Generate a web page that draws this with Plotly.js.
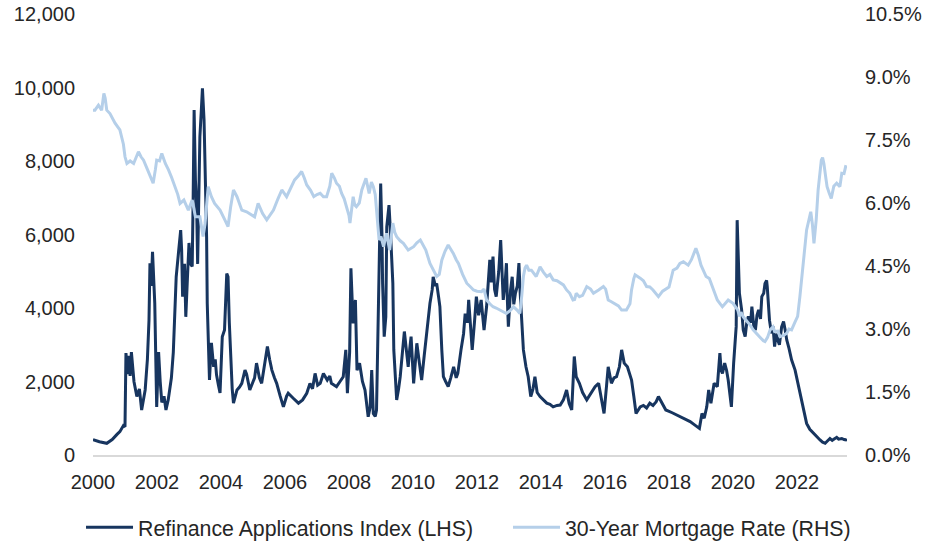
<!DOCTYPE html>
<html>
<head>
<meta charset="utf-8">
<script src="https://cdn.plot.ly/plotly-3.0.1.min.js"></script>
<style>
  html, body { margin: 0; padding: 0; background: #ffffff; }
  #chart { width: 927px; height: 541px; }
</style>
</head>
<body>
<div id="chart"></div>
<script>
// MBA refinance applications index (weekly, left axis) — time in decimal years
const refiYears = [
  2000.00,2000.06,2000.20,2000.43,2000.60,2000.75,2000.84,2000.95,2001.00,2001.03,
  2001.08,2001.12,2001.16,2001.20,2001.28,2001.37,2001.45,2001.52,2001.58,2001.63,
  2001.70,2001.75,2001.78,2001.82,2001.86,2001.93,2001.99,2002.05,2002.10,2002.15,
  2002.22,2002.28,2002.35,2002.40,2002.45,2002.51,2002.56,2002.60,2002.67,2002.74,
  2002.77,2002.80,2002.86,2002.90,2002.95,2003.00,2003.05,2003.10,2003.13,2003.16,
  2003.20,2003.24,2003.27,2003.31,2003.34,2003.38,2003.42,2003.47,2003.52,2003.55,
  2003.57,2003.60,2003.64,2003.70,2003.77,2003.82,2003.86,2003.92,2003.97,2004.04,
  2004.11,2004.18,2004.22,2004.26,2004.30,2004.35,2004.39,2004.45,2004.50,2004.58,
  2004.65,2004.75,2004.80,2004.90,2004.97,2005.05,2005.11,2005.20,2005.27,2005.36,
  2005.45,2005.52,2005.59,2005.67,2005.74,2005.85,2005.95,2006.05,2006.10,2006.25,
  2006.42,2006.55,2006.68,2006.78,2006.86,2006.94,2007.02,2007.10,2007.20,2007.32,
  2007.40,2007.45,2007.55,2007.61,2007.72,2007.82,2007.90,2007.95,2008.02,2008.06,
  2008.10,2008.13,2008.20,2008.25,2008.33,2008.42,2008.50,2008.55,2008.60,2008.66,
  2008.71,2008.76,2008.82,2008.86,2008.92,2008.99,2009.03,2009.05,2009.10,2009.15,
  2009.18,2009.25,2009.30,2009.32,2009.37,2009.40,2009.45,2009.49,2009.55,2009.60,
  2009.67,2009.73,2009.80,2009.85,2009.90,2009.94,2010.02,2010.08,2010.12,2010.20,
  2010.27,2010.35,2010.43,2010.50,2010.53,2010.60,2010.63,2010.70,2010.74,2010.80,
  2010.84,2010.90,2010.95,2011.02,2011.10,2011.18,2011.27,2011.35,2011.40,2011.50,
  2011.58,2011.63,2011.70,2011.74,2011.80,2011.85,2011.92,2011.98,2012.05,2012.13,
  2012.22,2012.30,2012.40,2012.45,2012.50,2012.55,2012.60,2012.68,2012.74,2012.78,
  2012.82,2012.88,2012.92,2012.95,2012.98,2013.05,2013.10,2013.15,2013.20,2013.26,
  2013.31,2013.35,2013.38,2013.45,2013.53,2013.60,2013.68,2013.75,2013.81,2013.88,
  2013.97,2014.08,2014.18,2014.28,2014.38,2014.50,2014.60,2014.70,2014.80,2014.88,
  2014.96,2015.04,2015.10,2015.20,2015.30,2015.43,2015.55,2015.69,2015.80,2015.90,
  2015.97,2016.05,2016.10,2016.20,2016.28,2016.36,2016.45,2016.52,2016.60,2016.70,
  2016.83,2016.90,2016.97,2017.10,2017.20,2017.30,2017.40,2017.50,2017.60,2017.67,
  2017.78,2017.90,2018.10,2018.34,2018.50,2018.66,2018.80,2018.95,2019.03,2019.10,
  2019.18,2019.24,2019.31,2019.41,2019.51,2019.59,2019.63,2019.67,2019.74,2019.80,
  2019.85,2019.95,2020.02,2020.06,2020.10,2020.13,2020.17,2020.20,2020.27,2020.32,
  2020.38,2020.43,2020.48,2020.55,2020.59,2020.65,2020.70,2020.75,2020.80,2020.86,
  2020.90,2020.96,2021.00,2021.05,2021.07,2021.14,2021.20,2021.25,2021.30,2021.35,
  2021.40,2021.45,2021.52,2021.58,2021.63,2021.68,2021.75,2021.83,2021.94,2022.02,
  2022.09,2022.20,2022.30,2022.40,2022.51,2022.60,2022.72,2022.80,2022.88,2022.95,
  2023.03,2023.10,2023.24,2023.30,2023.40,2023.47,2023.53,2023.56
];
const refiIndex = [
  420,400,360,318,420,560,635,800,770,2775,
  2200,2700,2150,2800,2000,1590,1800,1225,1500,1770,
  2600,3670,5220,4600,5530,4130,1310,2800,2000,1430,
  1600,1225,1500,1770,2100,2800,3800,4850,5490,6120,
  5580,4310,5200,3760,4800,5770,5200,5130,7000,9390,
  7500,6700,5200,7200,8660,9300,9980,9120,7500,5940,
  4130,3000,2040,3050,2400,2600,2180,1900,1690,3220,
  3400,4940,4850,3600,2590,1800,1410,1600,1770,1850,
  1950,2310,2200,1770,1950,2100,2500,2100,1950,2400,
  2950,2600,2310,2100,1950,1600,1310,1600,1680,1550,
  1410,1500,1680,1950,1800,2220,1900,1950,2220,2040,
  2150,1950,1900,1860,2000,2130,2860,1680,2800,5080,
  4200,3580,4220,2310,2500,2000,1770,1300,1040,1300,
  2310,1130,1050,1220,3950,7390,6000,4670,3220,3760,
  6210,6800,6000,5580,4670,2860,2000,1500,1800,2130,
  2800,3360,2800,2400,2900,3220,1950,2600,3040,2500,
  2040,2700,3400,3900,4130,4500,4850,4600,4670,4300,
  4040,2860,2130,2000,1860,2100,2400,2100,2220,2860,
  3300,3850,3600,4220,3400,2860,3600,4310,3800,4220,
  3400,4040,5310,4700,5400,4500,4310,5000,5850,4800,
  4220,4700,5220,4200,3490,4500,4850,4100,4400,4600,
  5220,4400,3950,2860,2400,2130,1590,1800,2130,1700,
  1590,1500,1410,1380,1310,1350,1360,1500,1770,1400,
  1225,2680,2130,1950,1700,1500,1650,1860,1950,1500,
  1130,1900,2400,1950,2100,2130,2400,2860,2500,2400,
  2040,1600,1130,1310,1350,1280,1410,1350,1450,1590,
  1400,1225,1150,1040,980,910,820,725,1130,1000,
  1310,1770,1410,1950,1860,2770,2300,2220,2500,2300,
  2040,1310,2500,3130,3500,6390,5000,4400,3950,3400,
  3220,3600,3770,3600,4040,3500,3400,3800,3950,3700,
  4310,4400,4670,4750,4580,3670,3310,3500,2950,3300,
  3130,3000,3490,3630,3400,3130,2900,2590,2310,2000,
  1680,1310,860,700,590,500,410,350,320,380,
  450,400,480,430,450,420,410,430
];

// Freddie Mac 30-year fixed mortgage rate, % (right axis)
const rateYears = [
  2000.00,2000.06,2000.17,2000.27,2000.34,2000.38,2000.43,2000.53,2000.69,2000.84,
  2000.95,2001.00,2001.06,2001.16,2001.27,2001.35,2001.42,2001.50,2001.58,2001.70,
  2001.78,2001.88,2001.95,2001.99,2002.08,2002.15,2002.26,2002.36,2002.46,2002.56,
  2002.65,2002.72,2002.84,2002.98,2003.10,2003.20,2003.34,2003.44,2003.50,2003.60,
  2003.70,2003.80,2003.97,2004.12,2004.22,2004.30,2004.39,2004.50,2004.65,2004.80,
  2004.90,2005.05,2005.16,2005.30,2005.43,2005.55,2005.64,2005.78,2005.90,2006.05,
  2006.18,2006.30,2006.42,2006.52,2006.60,2006.68,2006.80,2006.90,2007.00,2007.10,
  2007.20,2007.30,2007.40,2007.46,2007.54,2007.61,2007.70,2007.77,2007.85,2007.93,
  2008.00,2008.03,2008.08,2008.13,2008.18,2008.23,2008.32,2008.40,2008.53,2008.58,
  2008.63,2008.70,2008.76,2008.82,2008.86,2008.94,2009.00,2009.08,2009.17,2009.27,
  2009.37,2009.43,2009.49,2009.60,2009.70,2009.85,2010.02,2010.12,2010.23,2010.32,
  2010.40,2010.53,2010.65,2010.74,2010.82,2010.90,2011.00,2011.10,2011.18,2011.26,
  2011.35,2011.42,2011.55,2011.68,2011.80,2011.89,2012.00,2012.14,2012.22,2012.30,
  2012.40,2012.50,2012.60,2012.72,2012.82,2012.92,2013.05,2013.14,2013.25,2013.34,
  2013.40,2013.45,2013.50,2013.55,2013.62,2013.70,2013.85,2013.97,2014.08,2014.18,
  2014.28,2014.38,2014.50,2014.60,2014.70,2014.80,2014.90,2015.00,2015.05,2015.10,
  2015.20,2015.30,2015.43,2015.55,2015.64,2015.80,2015.95,2016.02,2016.10,2016.20,
  2016.30,2016.42,2016.52,2016.67,2016.78,2016.83,2016.90,2016.94,2017.10,2017.20,
  2017.30,2017.40,2017.50,2017.60,2017.67,2017.80,2017.90,2018.00,2018.13,2018.25,
  2018.34,2018.45,2018.60,2018.70,2018.84,2018.92,2019.00,2019.16,2019.26,2019.36,
  2019.45,2019.51,2019.60,2019.67,2019.75,2019.85,2020.00,2020.15,2020.20,2020.25,
  2020.32,2020.42,2020.53,2020.63,2020.74,2020.85,2020.95,2021.00,2021.08,2021.16,
  2021.25,2021.30,2021.40,2021.47,2021.58,2021.68,2021.75,2021.83,2021.94,2022.02,
  2022.09,2022.15,2022.20,2022.26,2022.30,2022.43,2022.48,2022.53,2022.60,2022.66,
  2022.72,2022.76,2022.80,2022.84,2022.90,2022.94,2023.00,2023.07,2023.15,2023.24,
  2023.34,2023.40,2023.47,2023.53
];
const mortgageRate = [
  8.21,8.21,8.33,8.21,8.61,8.50,8.21,8.13,7.90,7.74,
  7.40,7.10,6.94,7.00,6.94,7.10,7.22,7.10,7.02,6.80,
  6.63,6.47,6.80,7.02,7.00,7.18,6.94,6.79,6.60,6.39,
  6.20,5.99,6.07,5.83,6.07,5.67,5.67,5.20,5.50,6.39,
  6.15,5.99,5.83,5.60,5.44,5.90,6.31,6.15,5.83,5.79,
  5.75,5.67,5.99,5.75,5.60,5.75,5.83,6.10,6.31,6.15,
  6.35,6.55,6.65,6.75,6.60,6.43,6.30,6.15,6.20,6.23,
  6.15,6.15,6.40,6.71,6.60,6.47,6.40,6.23,6.10,5.91,
  5.70,5.52,5.80,6.15,5.95,5.91,6.00,6.31,6.59,6.40,
  6.23,6.50,6.39,6.20,5.83,5.12,5.20,4.96,5.28,4.88,
  5.52,5.30,5.20,5.10,5.04,4.88,4.96,5.05,5.12,5.00,
  4.88,4.56,4.40,4.25,4.30,4.64,4.85,5.00,4.90,4.80,
  4.65,4.56,4.30,4.09,4.00,3.93,3.90,3.89,3.95,3.69,
  3.60,3.53,3.50,3.45,3.40,3.37,3.45,3.53,3.45,3.37,
  3.80,4.25,4.45,4.52,4.40,4.40,4.25,4.48,4.35,4.25,
  4.30,4.17,4.15,4.09,4.05,3.93,3.85,3.69,3.70,3.85,
  3.77,3.80,4.01,3.95,3.85,3.93,4.01,3.95,3.69,3.65,
  3.61,3.55,3.45,3.45,3.60,3.93,4.20,4.29,4.21,4.15,
  4.01,4.00,3.93,3.85,3.77,3.90,3.94,4.00,4.40,4.45,
  4.56,4.60,4.52,4.65,4.92,4.75,4.52,4.25,4.20,4.01,
  3.85,3.69,3.60,3.53,3.60,3.69,3.61,3.45,3.30,3.40,
  3.29,3.20,3.10,2.98,2.90,2.80,2.72,2.70,2.80,2.98,
  3.05,2.94,2.95,2.82,2.85,2.90,3.00,2.98,3.17,3.30,
  3.77,4.20,4.72,5.10,5.36,5.79,5.50,5.04,5.60,6.31,
  6.70,7.02,7.08,6.94,6.60,6.39,6.25,6.11,6.40,6.47,
  6.39,6.71,6.70,6.90
];

const evenYears = [2000,2002,2004,2006,2008,2010,2012,2014,2016,2018,2020,2022];

const tickFont = { family: 'Liberation Sans, Arial, sans-serif', size: 20, color: '#262626' };
const legendFont = { family: 'Liberation Sans, Arial, sans-serif', size: 21.3, color: '#262626' };

const traces = [
  {
    x: refiYears, y: refiIndex,
    name: 'Refinance Applications Index (LHS)',
    type: 'scatter', mode: 'lines',
    line: { color: '#17355f', width: 3 },
    yaxis: 'y', legend: 'legend'
  },
  {
    x: rateYears, y: mortgageRate,
    name: '30-Year Mortgage Rate (RHS)',
    type: 'scatter', mode: 'lines',
    line: { color: '#b5cfe9', width: 3 },
    yaxis: 'y2', legend: 'legend2'
  }
];

// one legend entry per series, laid out side by side under the plot
const legendBase = {
  orientation: 'h',
  xref: 'container', yref: 'container',
  xanchor: 'left', yanchor: 'top',
  y: 0.063,
  itemwidth: 47,
  font: legendFont,
  bgcolor: 'rgba(0,0,0,0)'
};

const layout = {
  width: 927, height: 541,
  margin: { l: 93, r: 80, t: 14, b: 86, pad: 0, autoexpand: false },
  paper_bgcolor: '#ffffff', plot_bgcolor: '#ffffff',
  font: tickFont,
  showlegend: true,
  legend: Object.assign({}, legendBase, { x: 0.0874 }),
  legend2: Object.assign({}, legendBase, { x: 0.548 }),
  xaxis: {
    type: 'linear',
    range: [2000, 2023.5625],
    tickvals: evenYears,
    ticktext: evenYears.map(String),
    showgrid: false, zeroline: false,
    showline: true, linecolor: '#d9d9d9', linewidth: 1.5,
    ticks: '', ticklabelstandoff: 8,
    tickfont: tickFont
  },
  yaxis: {
    range: [0, 12000], dtick: 2000, tick0: 0,
    tickformat: ',d',
    showgrid: false, zeroline: false, showline: false,
    ticks: '', ticklabelstandoff: 17,
    tickfont: tickFont
  },
  yaxis2: {
    overlaying: 'y', side: 'right',
    range: [0, 10.5], dtick: 1.5, tick0: 0,
    tickformat: '.1f', ticksuffix: '%',
    showgrid: false, zeroline: false, showline: false,
    ticks: '', ticklabelstandoff: 17,
    tickfont: tickFont
  }
};

Plotly.newPlot('chart', traces, layout, { displayModeBar: false, staticPlot: true });
</script>
</body>
</html>
